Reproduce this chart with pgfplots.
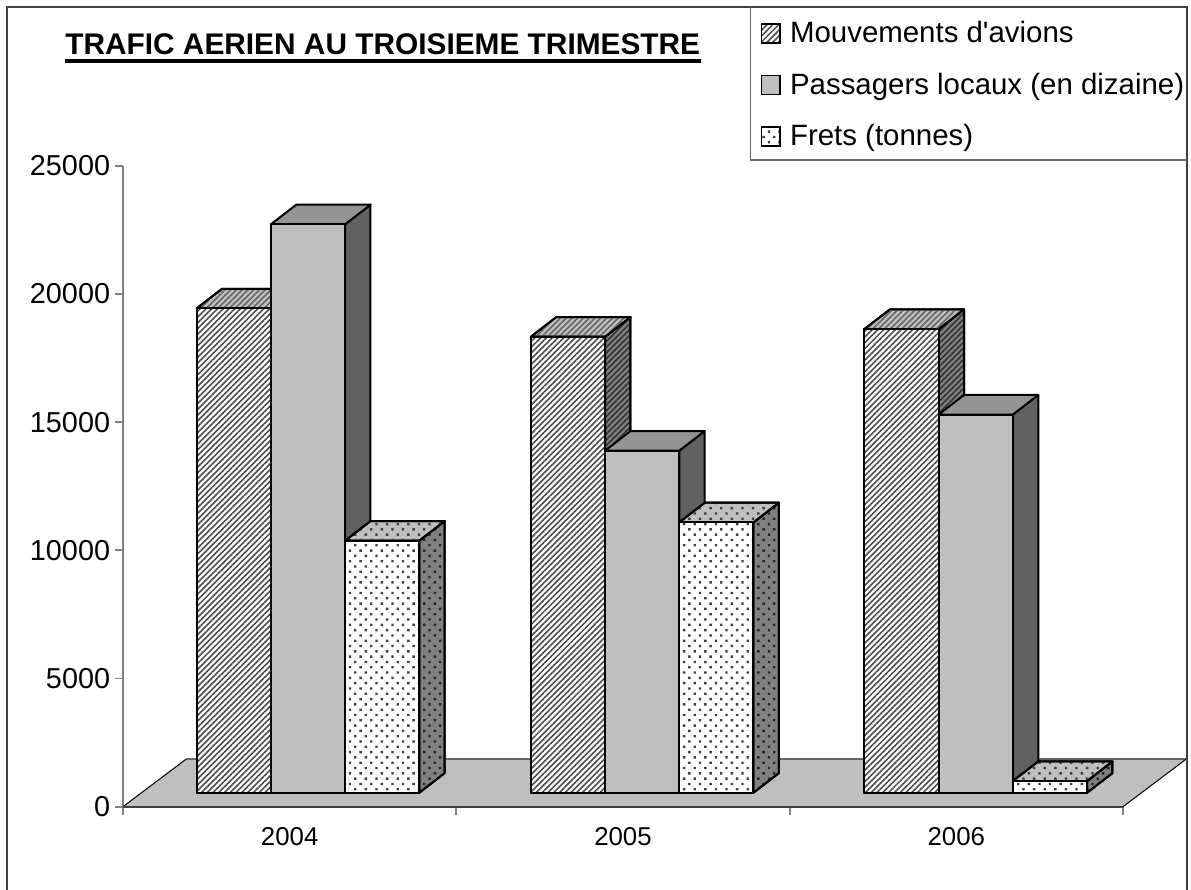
\documentclass[border=0pt]{standalone}
\usepackage{fontspec}
\setmainfont{Liberation Sans}[Ligatures=TeXOff]
\usepackage{pgfplots}
\pgfplotsset{compat=1.18}
\usetikzlibrary{patterns.meta}
\newcommand\bigf{\fontsize{17.3}{20}\selectfont}
\newcommand\legf{\fontsize{17.65}{20}\selectfont}
\newcommand\midf{\fontsize{15.5}{18}\selectfont}
\newcommand\titf{\fontsize{17.9}{20}\selectfont\bfseries}
% stripes and dots
\tikzset{
  hatchface/.style={pattern={Lines[angle=45,distance=2.45pt,line width=0.95pt]},pattern color=#1},
  dotface/.style={pattern={Dots[angle=45,distance=4.5pt,radius=1pt]},pattern color=#1},
}
\def\dx{25.4}   % depth of a bar, x units
\def\dy{764}    % depth of a bar, y units
\def\bw{74.2}   % bar width
\def\base{546}  % bars stand on the floor, not on y=0
% #1 left x, #2 height, #3 front, #4 top, #5 side
\newcommand\tdbar[5]{%
  \addplot[forget plot,draw=black,line width=1.2pt,line join=round,#5] coordinates
    {(#1+\bw,\base) (#1+\bw+\dx,\base+\dy) (#1+\bw+\dx,\base+\dy+#2) (#1+\bw,\base+#2)} --cycle;
  \addplot[forget plot,draw=black,line width=1.2pt,line join=round,#4] coordinates
    {(#1,\base+#2) (#1+\dx,\base+#2+\dy) (#1+\bw+\dx,\base+#2+\dy) (#1+\bw,\base+#2)} --cycle;
  \addplot[forget plot,draw=black,line width=1.2pt,line join=round,#3] coordinates
    {(#1,\base) (#1+\bw,\base) (#1+\bw,\base+#2) (#1,\base+#2)} --cycle;
}
\newcommand\mouv[2]{\tdbar{#1}{#2}
  {preaction={fill=white},hatchface=black!70}
  {preaction={fill=black!25},hatchface=black!60}
  {preaction={fill=black!50},hatchface=black!80}}
\newcommand\pass[2]{\tdbar{#1}{#2}{fill=black!25}{fill=black!42}{fill=black!62}}
\newcommand\fret[2]{\tdbar{#1}{#2}
  {preaction={fill=white},dotface=black!75}
  {preaction={fill=black!25},dotface=black!75}
  {preaction={fill=black!50},dotface=black!85}}
\begin{document}
\begin{tikzpicture}[x=0.6pt,y=-0.6pt]
\path[use as bounding box] (0,0) rectangle (1191,890);
\begin{axis}[
  at={(73.8pt,-484.02pt)}, anchor=south west,
  scale only axis, width=600pt, height=384.6pt,
  xmin=123, xmax=1123, ymin=0, ymax=25000,
  clip=false,
  axis x line=bottom, axis y line=left,
  x axis line style={-,draw=black!75,line width=1pt},
  y axis line style={-,draw=black!50,line width=1pt},
  tick align=outside,
  major tick length=4.8pt,
  tick style={draw=black!50,line width=1pt},
  ytick={0,5000,10000,15000,20000,25000},
  scaled y ticks=false,
  yticklabel={\pgfmathprintnumber[fixed,precision=0,1000 sep={},assume math mode=true]{\tick}},
  xtick={123,456.3,789.7,1123},
  xticklabels={},
  extra x ticks={289.7,623,956.3},
  extra x tick labels={2004,2005,2006},
  extra x tick style={major tick length=0pt,tick label style={font=\midf,yshift=-9pt}},
  yticklabel style={font=\bigf,xshift=0.6pt},
  legend cell align=left,
  legend image code/.code={\draw[draw=black,line width=0.9pt,#1] (0pt,-5.6pt) rectangle (11.2pt,5.6pt);\path (15pt,0pt);},
  legend style={at={(axis description cs:0.629,1.2476)},anchor=north west,
    draw=none,fill=none,font=\legf,
    inner xsep=5pt,inner ysep=6.6pt,row sep=12.6pt},
]
% floor
\addplot[forget plot,fill=black!25,draw=none] coordinates
  {(123,0) (186.7,1872) (1186.7,1872) (1123,0)} --cycle;
\addplot[forget plot,draw=black!60,line width=1pt] coordinates {(186.7,1872) (1186.7,1872)};
\addplot[forget plot,draw=black,line width=0.6pt] coordinates {(123,0) (186.7,1872)};
\addplot[forget plot,draw=black,line width=0.6pt] coordinates {(1123,0) (1186.7,1872)};
\addplot[forget plot,draw=black!75,line width=1pt] coordinates {(123,0) (1123,0)};
% 2004
\mouv{196.7}{18890}
\pass{270.9}{22170}
\fret{345.1}{9830}
% 2005
\mouv{530.9}{17785}
\pass{605.1}{13340}
\fret{679.3}{10545}
% 2006
\mouv{864.5}{18085}
\pass{938.7}{14750}
\fret{1012.9}{456}
\addlegendimage{preaction={fill=white},hatchface=black!70}
\addlegendentry{Mouvements d'avions}
\addlegendimage{fill=black!25}
\addlegendentry{Passagers locaux (en dizaine)}
\addlegendimage{preaction={fill=white},dotface=black!75}
\addlegendentry{Frets (tonnes)}
\end{axis}
% frame, open at the bottom
\draw[black!75,line width=1.1pt] (7,890) -- (7,7) -- (1186.7,7) -- (1186.7,890);
\draw[black!60,line width=0.8pt] (750.5,7) -- (750.5,160) -- (1186.7,160);
\node[anchor=base west,inner sep=0pt,font=\titf] (tt) at (65,55) {TRAFIC AERIEN AU TROISIEME TRIMESTRE};
\draw[black,line width=2.4pt] (65,60.5) -- (701,60.5);
\end{tikzpicture}
\end{document}
